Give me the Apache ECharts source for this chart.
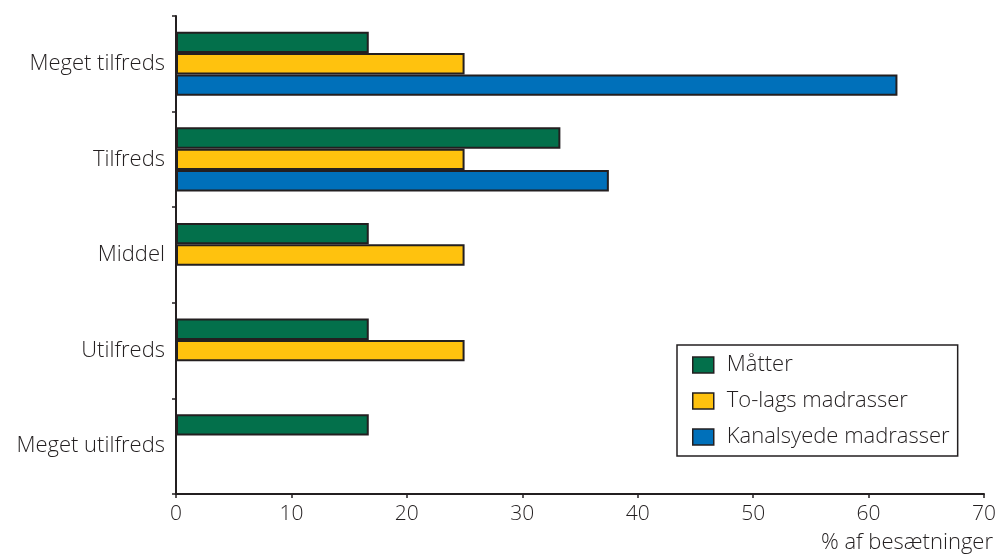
<!DOCTYPE html>
<html>
<head>
<meta charset="utf-8">
<script src="https://cdn.jsdelivr.net/npm/echarts@6/dist/echarts.min.js"></script>
<style>html,body{margin:0;padding:0;background:#fff}#c{width:999px;height:558px}</style>
</head>
<body>
<div id="c"></div>
<script>
const categories = ['Meget tilfreds', 'Tilfreds', 'Middel', 'Utilfreds', 'Meget utilfreds'];
const seriesNames = ['Måtter', 'To-lags madrasser', 'Kanalsyede madrasser'];
const matter = [16.7, 33.3, 16.7, 16.7, 16.7];
const toLags = [25, 25, 25, 25, 0];
const kanalsyede = [62.5, 37.5, 0, 0, 0];
const xTicks = [0, 10, 20, 30, 40, 50, 60, 70];
const axisTitle = '% af besætninger';

const colors = ['#03704b', '#ffc20e', '#0070ba'];
const ink = '#231f20';
const font = '"Open Sans", "Noto Sans", sans-serif';

const chart = echarts.init(document.getElementById('c'), null, {renderer: 'canvas'});
const mk = (name, data, i) => ({
  name, type: 'bar', data,
  barGap: '0%', barCategoryGap: '33%',
  itemStyle: {color: colors[i], borderColor: ink, borderWidth: 2},
  silent: true
});
chart.setOption({
  animation: false,
  grid: {left: 176, right: 13, top: 16, bottom: 64, containLabel: false},
  xAxis: {
    type: 'value', min: xTicks[0], max: xTicks[xTicks.length - 1], interval: 10,
    axisLine: {show: true, lineStyle: {color: ink, width: 2}},
    axisTick: {show: true, length: 4, lineStyle: {color: ink, width: 1.5}},
    splitLine: {show: false},
    axisLabel: {color: ink, fontSize: 21, fontFamily: font, fontWeight: 300, margin: 10}
  },
  yAxis: {
    type: 'category', data: categories, inverse: true,
    axisLine: {show: true, lineStyle: {color: ink, width: 2}},
    axisTick: {show: true, length: 4, lineStyle: {color: ink, width: 1.5}},
    axisLabel: {color: ink, fontSize: 22, fontFamily: font, fontWeight: 300, margin: 11}
  },
  legend: {
    orient: 'vertical', left: 677, top: 345,
    padding: [9, 8, 8, 15],
    itemGap: 14, itemWidth: 21, itemHeight: 16,
    icon: 'rect',
    borderColor: ink, borderWidth: 1.5,
    textStyle: {color: ink, fontSize: 22, fontFamily: font, fontWeight: 300, padding: [0, 0, 0, 8]},
    itemStyle: {borderColor: ink, borderWidth: 1.5},
    data: seriesNames
  },
  graphic: [{
    type: 'text', right: 6, top: 532,
    style: {text: axisTitle, fill: ink, fontSize: 22, fontFamily: font, fontWeight: 300}
  }],
  series: [mk(seriesNames[0], matter, 0), mk(seriesNames[1], toLags, 1), mk(seriesNames[2], kanalsyede, 2)]
});
</script>
</body>
</html>
